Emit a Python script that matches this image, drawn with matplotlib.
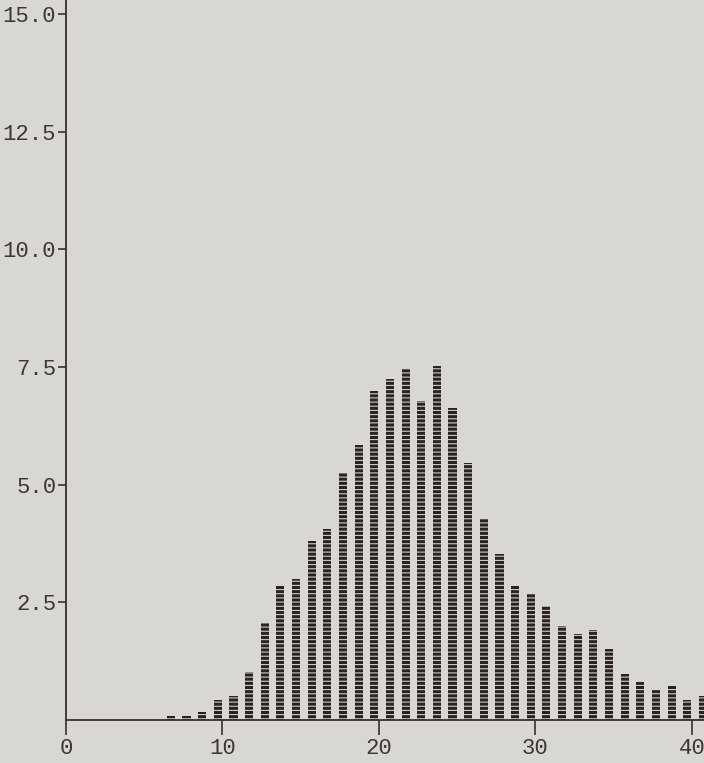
import matplotlib
matplotlib.use("Agg")
import matplotlib.pyplot as plt

# fibre count histogram
bins = [7, 8, 9, 10, 11, 12, 13, 14, 15, 16, 17, 18, 19, 20, 21, 22, 23, 24,
        25, 26, 27, 28, 29, 30, 31, 32, 33, 34, 35, 36, 37, 38, 39, 40, 41]
counts = [0.08, 0.08, 0.17, 0.43, 0.5, 1.03, 2.07, 2.85, 3.0, 3.8, 4.05, 5.25,
          5.85, 7.0, 7.25, 7.45, 6.77, 7.53, 6.62, 5.46, 4.28, 3.52, 2.85, 2.68,
          2.43, 2.0, 1.83, 1.92, 1.5, 0.97, 0.8, 0.63, 0.72, 0.42, 0.5]
xticks = [0, 10, 20, 30, 40]
yticks = [2.5, 5.0, 7.5, 10.0, 12.5, 15.0]

paper = "#d9d7d4"
ink = "#2b2321"

plt.rcParams["hatch.linewidth"] = 0.8
plt.rcParams["font.family"] = ["Liberation Mono", "DejaVu Sans Mono"]

fig = plt.figure(figsize=(7.04, 7.63), dpi=100, facecolor=paper)
ax = fig.add_axes([66 / 704, 43 / 763, 1 - 66 / 704, 1 - 43 / 763])
ax.set_facecolor(paper)

# bars sit a little left of each integer mark on the printout
lefts = [b - 0.3 for b in bins]
ax.bar(lefts, counts, width=0.52, color=ink, edgecolor="#cfcac6",
       linewidth=0, hatch="----")

ax.set_xlim(0, 40.77)
ax.set_ylim(0, 15.3)

for s in ["top", "right"]:
    ax.spines[s].set_visible(False)
for s in ["left", "bottom"]:
    ax.spines[s].set_color("#3a302e")
    ax.spines[s].set_linewidth(1.3)

ax.set_xticks(xticks)
ax.set_xticklabels([str(t) for t in xticks])
ax.set_yticks(yticks)
ax.set_yticklabels(["%.1f" % t for t in yticks])
ax.tick_params(axis="x", direction="out", length=11, width=1.2,
               colors="#3a302e", labelsize=16, pad=2)
ax.tick_params(axis="y", direction="out", length=6, width=1.2,
               colors="#3a302e", labelsize=16, pad=1)
for lab in ax.get_xticklabels() + ax.get_yticklabels():
    lab.set_color("#3d3735")

fig.savefig("out.png", dpi=100, facecolor=paper)
